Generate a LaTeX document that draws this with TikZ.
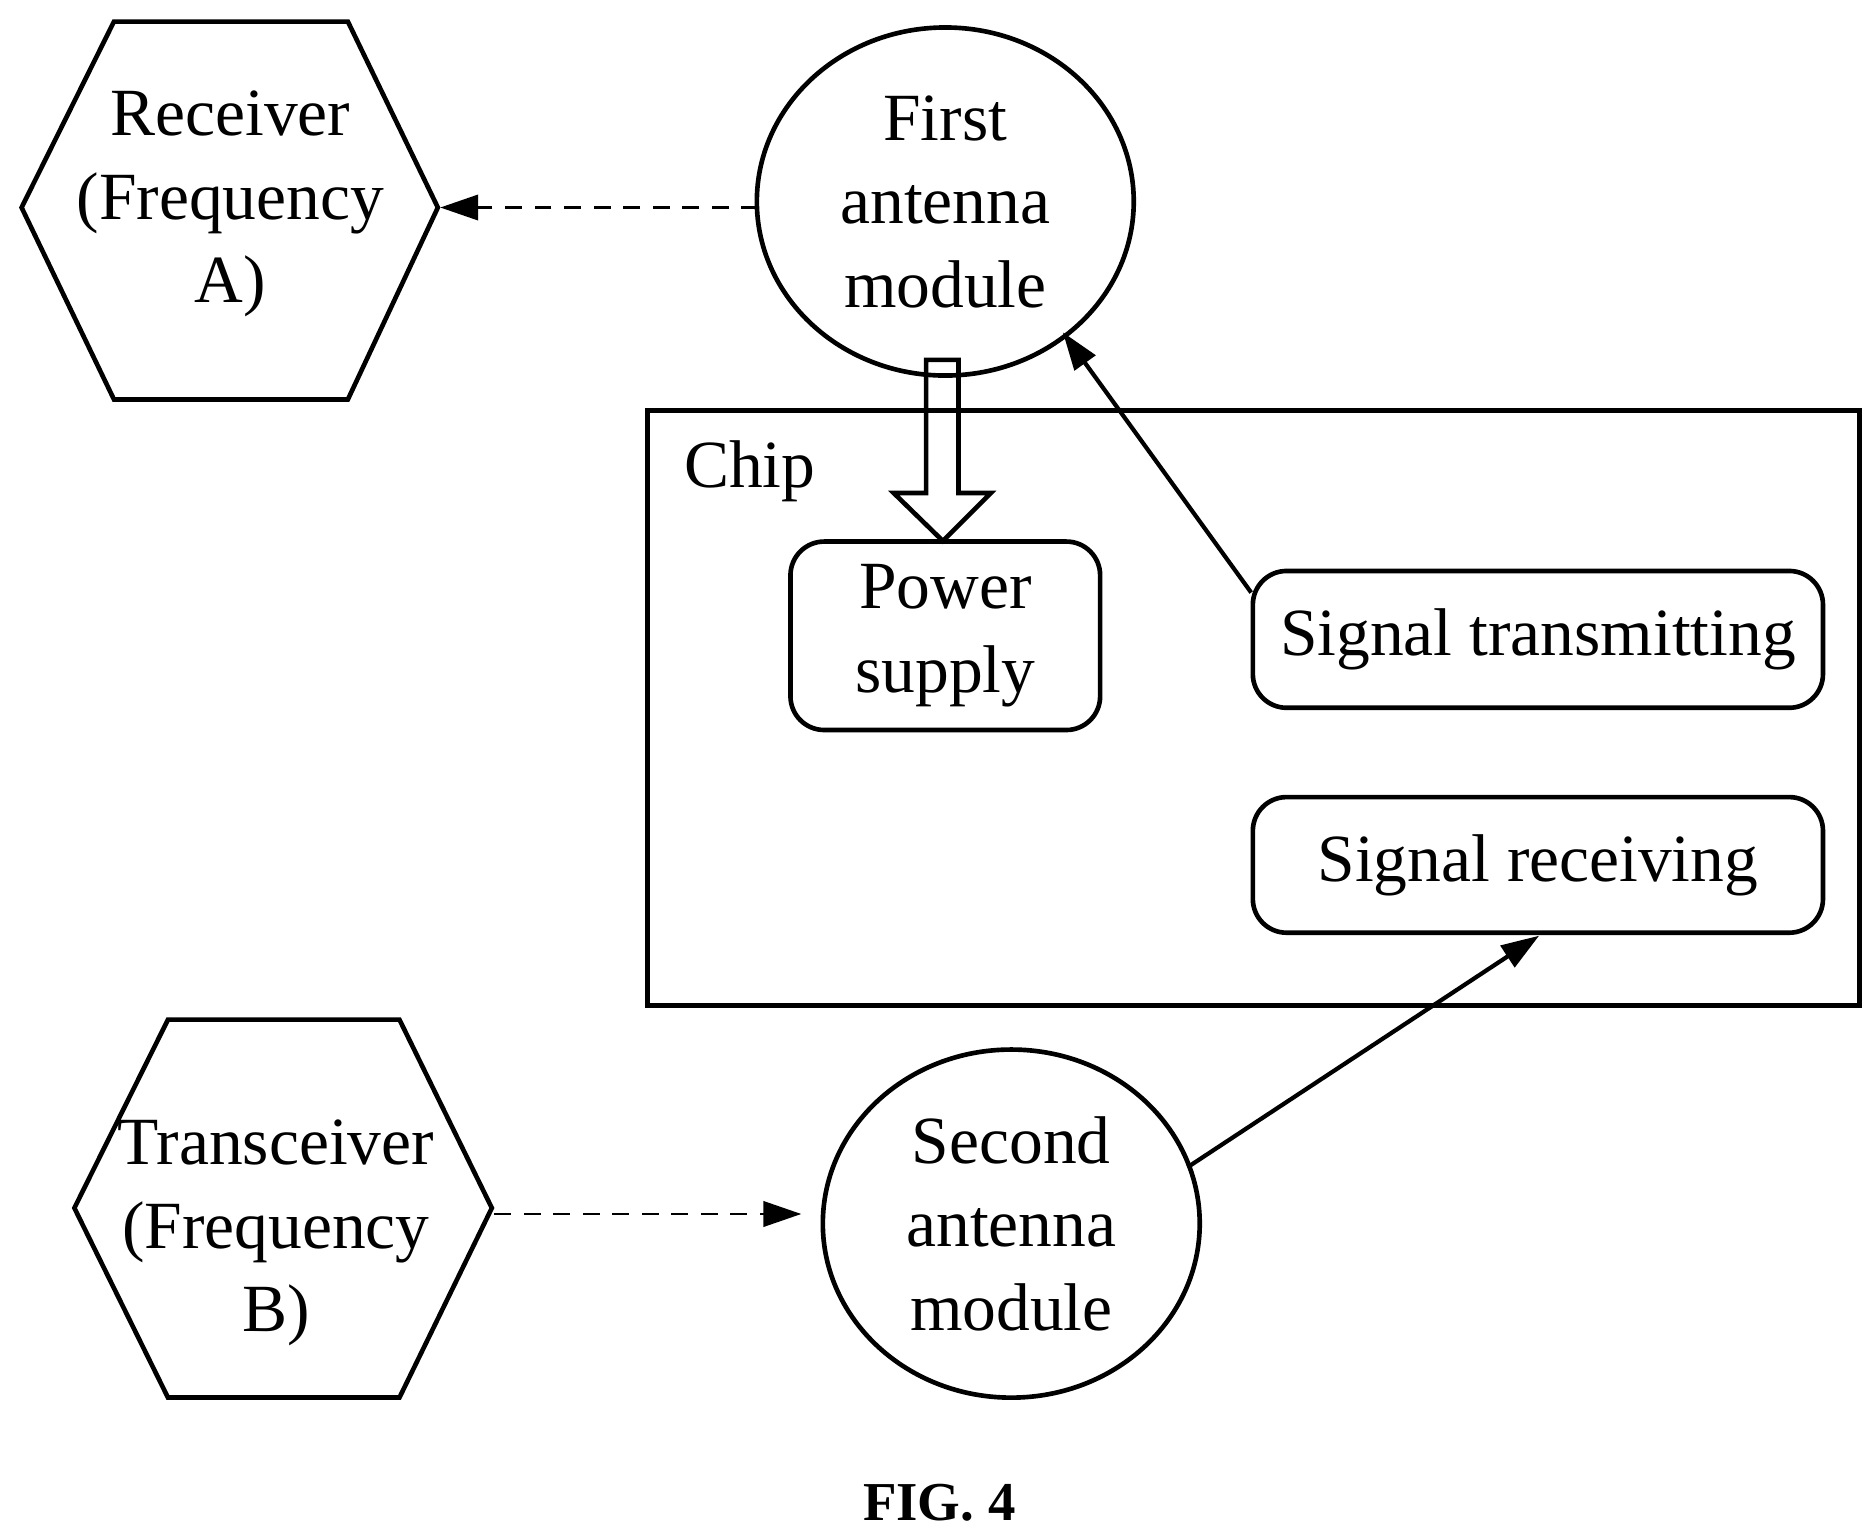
\documentclass[tikz,border=0pt]{standalone}
\usepackage{fontspec}
\setmainfont{Liberation Serif}
\usetikzlibrary{arrows.meta,shapes.geometric}
\begin{document}
\begin{tikzpicture}[x=0.01cm,y=-0.01cm,line width=1.1pt,
  txt/.style={font=\fontsize{16}{19.8}\selectfont,align=center,inner sep=0pt},
  box/.style={draw,rounded corners=8pt,font=\fontsize{16}{19.8}\selectfont,align=center,inner sep=0pt},
  arr/.style={-{Triangle[length=9pt,width=6pt]},line width=1pt},
  darr/.style={arr,line width=0.7pt,dash pattern=on 4pt off 3pt}]
\useasboundingbox (0,0) rectangle (1563,1280);
% receiver
\draw (18,173)--(95,18)--(290,18)--(365,173)--(290,333)--(95,333)--cycle;
\node[txt] (rx) at (192,170) {Receiver\\(Frequency\\A)};
\coordinate (rxr) at (367,173);
% transceiver
\draw (62,1007)--(140,850)--(333,850)--(410,1007)--(333,1165)--(140,1165)--cycle;
\node[txt] (tx) at (230,1028) {Transceiver\\(Frequency\\B)};
\coordinate (txr) at (412,1012);
% ellipses
\draw (788,168) ellipse [x radius=1.57cm, y radius=1.45cm];
\node[txt] (a1) at (788,168) {First\\antenna\\module};
\draw (843,1020) ellipse [x radius=1.57cm, y radius=1.45cm];
\node[txt] (a2) at (843,1020) {Second\\antenna\\module};
\coordinate (a1w) at (632,173);
\coordinate (a1b) at (886,277);
\coordinate (a2w) at (668,1012);
\coordinate (a2r) at (990,973);
% chip
\draw (540,342) rectangle (1550,838);
\node[txt] (chip) at (625,393) {Chip};
\node[box,minimum width=2.58cm,minimum height=1.57cm] (ps) at (788,530) {Power\\supply};
\node[box,minimum width=4.75cm,minimum height=1.14cm] (st) at (1282,533) {Signal transmitting};
\node[box,minimum width=4.75cm,minimum height=1.13cm] (sr) at (1282,721) {Signal receiving};
\coordinate (stw) at (1043,494);
\coordinate (srb) at (1283,780);
% arrows
\draw[darr] (a1w) -- (rxr);
\draw[darr] (txr) -- (a2w);
\draw[arr] (stw) -- (a1b);
\draw[arr] (a2r) -- (srb);
\draw[line join=miter] (772,300)--(799,300)--(799,411)--(826,411)--(786,451)--(745,411)--(772,411)--cycle;
\node[font=\bfseries\fontsize{13}{16}\selectfont] (fig) at (783,1253) {FIG. 4};
\end{tikzpicture}
\end{document}
